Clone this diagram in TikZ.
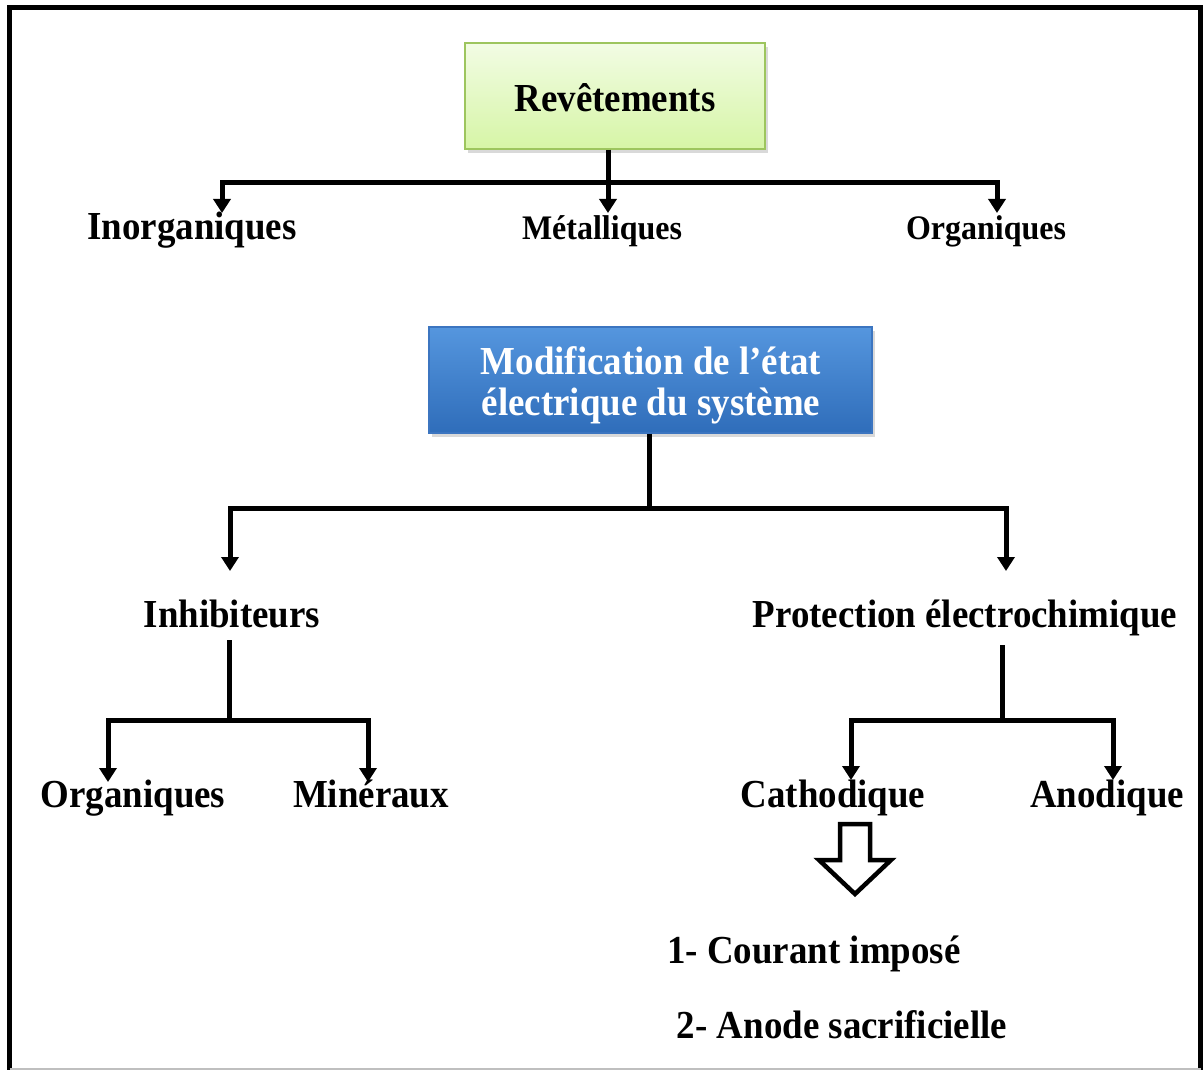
\documentclass[tikz,border=0pt]{standalone}
\usepackage{fontspec}
\setmainfont{Liberation Serif}[FakeStretch=0.93]
\usetikzlibrary{arrows.meta,shadows,calc}
\definecolor{grtop}{HTML}{F2FCE4}
\definecolor{grbot}{HTML}{D6F5A6}
\definecolor{grline}{HTML}{9DC55E}
\definecolor{bltop}{HTML}{5596DE}
\definecolor{blbot}{HTML}{2F6DBA}
\definecolor{blline}{HTML}{3C75C0}
\begin{document}
\begin{tikzpicture}[x=1pt,y=-1pt,
  line/.style={line width=5pt, line join=miter},
  conn/.style={line width=5pt, line join=miter, -{Triangle[width=17pt,length=14pt]}},
  big/.style={font=\bfseries\fontsize{39.7}{39.7}\selectfont, inner sep=0pt, anchor=base},
  small/.style={font=\bfseries\fontsize{34.4}{34.4}\selectfont, inner sep=0pt, anchor=base},
  shbox/.style={drop shadow={shadow xshift=3pt, shadow yshift=-4pt, opacity=0.3}}]
\useasboundingbox (0,0) rectangle (1203,1070);
% frame
\draw[line width=5pt] (9.5,1072) -- (9.5,8) -- (1200.5,8) -- (1200.5,1072);
\draw[gray!50, line width=2pt] (9.5,1069) -- (1200.5,1069);

% boxes
\node[shbox, draw=grline, line width=1.2pt, top color=grtop, bottom color=grbot,
  minimum width=300pt, minimum height=106pt, inner sep=0pt] (rev) at (615,96) {};
\node[big] (revt) at (615,112) {Revêtements};

\node[shbox, draw=blline, line width=1.2pt, top color=bltop, bottom color=blbot,
  minimum width=443pt, minimum height=106pt, inner sep=0pt] (mod) at (650.5,380) {};
\node[big, text=white] (mod1) at (651,374) {Modification de l’état};
\node[big, text=white] (mod2) at (651,415) {électrique du système};

% labels
\node[big] (inorg) at (192,240) {Inorganiques};
\node[small] (metal) at (602,240) {Métalliques};
\node[small] (org1) at (986,240) {Organiques};
\node[big] (inhib) at (232,627) {Inhibiteurs};
\node[big] (prot) at (965,627) {Protection électrochimique};
\node[big] (org2) at (133,807) {Organiques};
\node[big] (miner) at (371,807) {Minéraux};
\node[big] (cath) at (833,807) {Cathodique};
\node[big] (anod) at (1107,807) {Anodique};
\node[big] (cour) at (814,963) {1- Courant imposé};
\node[big] (anode) at (842,1038) {2- Anode sacrificielle};

% connectors from Revêtements
\coordinate (j1) at (608,183);
\coordinate (a1) at (222,213);
\coordinate (a2) at (608,213);
\coordinate (a3) at (997,213);
\draw[line] (rev.south -| j1) -- (j1);
\draw[conn] (j1) -| (a1);
\draw[conn] (j1) -| (a3);
\draw[conn] (j1) -- (a2);

% connectors from Modification
\coordinate (j2) at (649,508);
\coordinate (b1) at (230,571);
\coordinate (b2) at (1006,571);
\draw[line] (mod.south -| j2) -- (j2);
\draw[conn] (j2) -| (b1);
\draw[conn] (j2) -| (b2);

% Inhibiteurs
\coordinate (s1) at (229,640);
\coordinate (j3) at (229,720);
\coordinate (c1) at (108,782);
\coordinate (c2) at (368,782);
\draw[line] (s1) -- (j3);
\draw[conn] (j3) -| (c1);
\draw[conn] (j3) -| (c2);

% Protection
\coordinate (s2) at (1002,645);
\coordinate (j4) at (1002,720);
\coordinate (d1) at (851,780);
\coordinate (d2) at (1113,780);
\draw[line] (s2) -- (j4);
\draw[conn] (j4) -| (d1);
\draw[conn] (j4) -| (d2);

% hollow arrow
\draw[line width=4.5pt, line join=miter, fill=white]
  (840,824) -- (870,824) -- (870,860) -- (891,860) -- (855,894) -- (819,860) -- (840,860) -- cycle;
\end{tikzpicture}
\end{document}
